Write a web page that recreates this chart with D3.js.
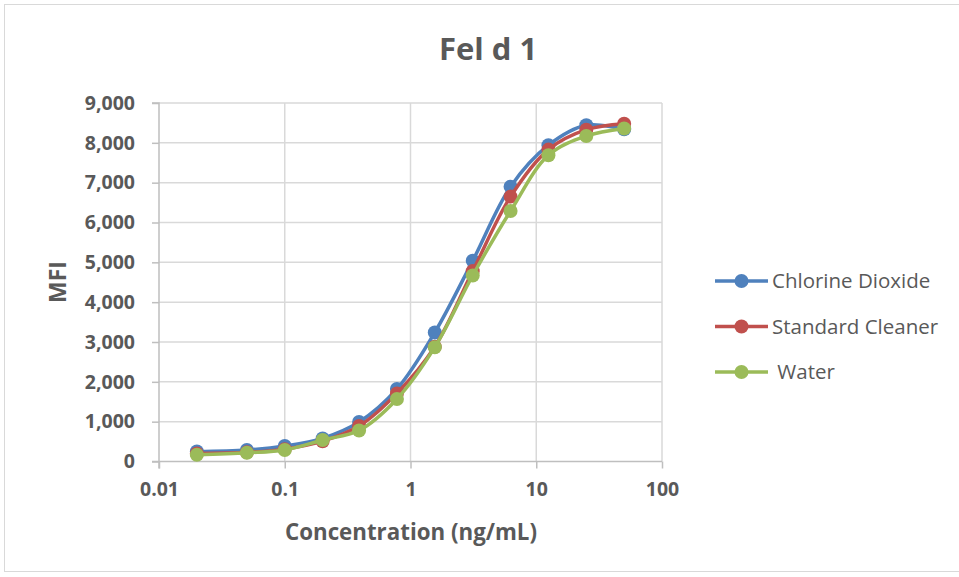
<!DOCTYPE html>
<html>
<head>
<meta charset="utf-8">
<script src="https://cdn.jsdelivr.net/npm/d3@7"></script>
<style>
  body { margin: 0; background: #fff; }
  text { font-family: "Open Sans", "Liberation Sans", sans-serif; fill: #595959; }
</style>
</head>
<body>
<div id="chart"></div>
<script>
// data
const concentrations = [0.02, 0.05, 0.1, 0.2, 0.39, 0.78, 1.56, 3.125, 6.25, 12.5, 25, 50];
const chlorineDioxide = [250, 290, 390, 580, 990, 1820, 3240, 5040, 6900, 7940, 8440, 8340];
const standardCleaner = [200, 230, 310, 510, 890, 1710, 2880, 4780, 6650, 7830, 8330, 8480];
const water = [170, 220, 290, 540, 780, 1570, 2870, 4670, 6290, 7690, 8170, 8360];
const seriesNames = ['Chlorine Dioxide', 'Standard Cleaner', ' Water'];
const xTicks = [0.01, 0.1, 1, 10, 100];
const yTicks = [0, 1000, 2000, 3000, 4000, 5000, 6000, 7000, 8000, 9000];

const width = 959, height = 577;
const plot = { left: 159, right: 662, top: 103, bottom: 461.5 };
const colors = ['#4f81bd', '#c0504d', '#9bbb59'];

const svg = d3.select('#chart').append('svg')
  .attr('width', width).attr('height', height);

// outer chart border
svg.append('rect')
  .attr('x', 4.5).attr('y', 4.5).attr('width', 970).attr('height', 567)
  .attr('fill', 'none').attr('stroke', '#d9d9d9');

const x = d3.scaleLog().domain([0.01, 100]).range([plot.left, plot.right]);
const y = d3.scaleLinear().domain([0, 9000]).range([plot.bottom, plot.top]);

// #region grid
svg.append('g').selectAll('line').data(yTicks.slice(1)).join('line')
  .attr('x1', plot.left).attr('x2', plot.right)
  .attr('y1', d => y(d)).attr('y2', d => y(d))
  .attr('stroke', '#d9d9d9').attr('stroke-width', 1.5);
svg.append('g').selectAll('line').data(xTicks.slice(1)).join('line')
  .attr('x1', d => x(d)).attr('x2', d => x(d))
  .attr('y1', plot.top).attr('y2', plot.bottom)
  .attr('stroke', '#d9d9d9').attr('stroke-width', 1.5);
// #endregion

// #region axes
const yAxis = svg.append('g').attr('transform', `translate(${plot.left},0)`)
  .call(d3.axisLeft(y).tickValues(yTicks).tickSize(7).tickPadding(17)
    .tickFormat(d3.format(',')));
const xAxis = svg.append('g').attr('transform', `translate(0,${plot.bottom})`)
  .call(d3.axisBottom(x).tickValues(xTicks).tickSize(7).tickPadding(14)
    .tickFormat(d => String(d)));
[xAxis, yAxis].forEach(a => {
  a.select('.domain').attr('stroke', '#bfbfbf').attr('stroke-width', 1.5);
  a.selectAll('.tick line').attr('stroke', '#bfbfbf').attr('stroke-width', 1.5);
  a.selectAll('.tick text')
    .style('font-size', '19.5px').style('font-weight', 'bold').attr('fill', '#595959');
});
yAxis.select('.domain').attr('d', `M-7,${plot.top}H0V${plot.bottom + 7}`);
xAxis.select('.domain').attr('d', `M${plot.left - 7},0H${plot.right}`);
// #endregion

// #region series
const allSeries = [chlorineDioxide, standardCleaner, water];
const line = d3.line()
  .x((d, i) => x(concentrations[i]))
  .y(d => y(d))
  .curve(d3.curveCatmullRom.alpha(0.5));

allSeries.forEach((values, s) => {
  const g = svg.append('g');
  g.append('path').datum(values)
    .attr('d', line)
    .attr('fill', 'none')
    .attr('stroke', colors[s])
    .attr('stroke-width', 3.5);
  g.selectAll('circle').data(values).join('circle')
    .attr('cx', (d, i) => x(concentrations[i]))
    .attr('cy', d => y(d))
    .attr('r', 7)
    .attr('fill', colors[s]);
});
// #endregion

// #region titles
svg.append('text').text('Fel d 1')
  .attr('x', 488).attr('y', 60)
  .attr('text-anchor', 'middle')
  .style('font-size', '31px').style('font-weight', 'bold');

svg.append('text').text('Concentration (ng/mL)')
  .attr('x', 411).attr('y', 540)
  .attr('text-anchor', 'middle')
  .style('font-size', '22.3px').style('font-weight', 'bold');

svg.append('text').text('MFI')
  .attr('transform', 'translate(66,282) rotate(-90)')
  .attr('text-anchor', 'middle')
  .style('font-size', '23px').style('font-weight', 'bold');
// #endregion

// #region legend
const legend = svg.append('g').attr('transform', 'translate(715,281)');
seriesNames.forEach((name, i) => {
  const row = legend.append('g').attr('transform', `translate(0,${i * 45.5})`);
  row.append('line').attr('x1', 0).attr('x2', 53)
    .attr('stroke', colors[i]).attr('stroke-width', 3.5);
  row.append('circle').attr('cx', 26.5).attr('r', 7).attr('fill', colors[i]);
  row.append('text').text(name)
    .attr('x', 57).attr('y', 7)
    .style('font-size', '20.5px')
    .style('white-space', 'pre');
});
// #endregion
</script>
</body>
</html>
